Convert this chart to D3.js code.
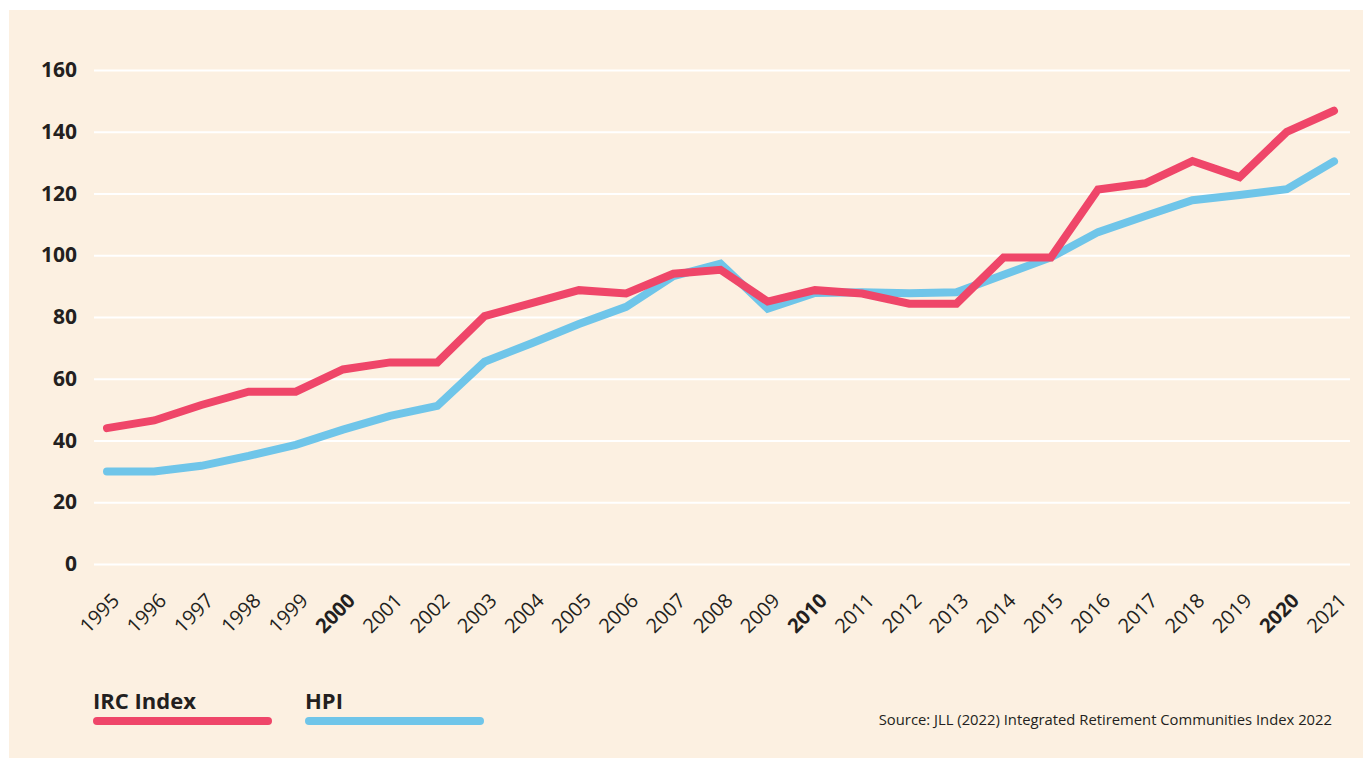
<!DOCTYPE html>
<html>
<head>
<meta charset="utf-8">
<script src="https://cdn.jsdelivr.net/npm/d3@7"></script>
<style>
  html, body { margin: 0; padding: 0; background: #ffffff; }
  svg { display: block; }
</style>
</head>
<body>
<div class="visualization"></div>
<script>
const years = [1995, 1996, 1997, 1998, 1999, 2000, 2001, 2002, 2003, 2004, 2005, 2006, 2007,
  2008, 2009, 2010, 2011, 2012, 2013, 2014, 2015, 2016, 2017, 2018, 2019, 2020, 2021]
const ircIndex = [44, 46.5, 51.5, 55.8, 55.8, 63, 65.3, 65.3, 80.3, 84.5, 88.7, 87.6, 94,
  95.3, 85, 88.7, 87.6, 84.3, 84.3, 99.3, 99.3, 121.3, 123.3, 130.5, 125.3, 140, 146.8]
const hpi = [30, 30, 31.8, 35, 38.6, 43.5, 48, 51.2, 65.5, 71.5, 77.7, 83.3, 93.2,
  97.3, 82.7, 87.8, 88, 87.7, 88, 93.7, 99.3, 107.5, 112.7, 117.8, 119.5, 121.4, 130.4]
const yTicks = [0, 20, 40, 60, 80, 100, 120, 140, 160]
const boldYears = [2000, 2010, 2020]
const seriesNames = ['IRC Index', 'HPI']
const sourceText = 'Source: JLL (2022) Integrated Retirement Communities Index 2022'

const WIDTH = 1363
const HEIGHT = 758
const RED = '#ef4669'
const BLUE = '#6fc5e9'
const INK = '#231f20'
const FONT = '"Open Sans", "Noto Sans", sans-serif'

const svg = d3.select('.visualization')
  .append('svg')
  .attr('width', WIDTH)
  .attr('height', HEIGHT)

// panel
svg.append('rect')
  .attr('x', 9)
  .attr('y', 10)
  .attr('width', WIDTH - 9)
  .attr('height', HEIGHT - 10)
  .attr('fill', '#fcf0e1')

// set the ranges
const x = d3.scalePoint().domain(years).range([107, 1334])
const y = d3.scaleLinear().domain([0, 160]).range([564, 70])

// horizontal gridlines + y labels
svg.append('g')
  .attr('class', 'grid y-grid')
  .attr('transform', 'translate(94,0)')
  .call(d3.axisLeft(y)
    .tickValues(yTicks)
    .tickSize(-1256)
    .tickPadding(17)
  )
  .call(g => g.select('.domain').remove())
  .call(g => g.selectAll('.tick line').attr('stroke', '#ffffff').attr('stroke-width', 2))
  .call(g => g.selectAll('.tick text')
    .attr('fill', INK)
    .style('font-family', FONT)
    .style('font-size', '21px')
    .style('font-weight', 700))

// x labels, rotated
svg.append('g')
  .attr('class', 'labels')
  .attr('transform', 'translate(0,564)')
  .call(d3.axisBottom(x).tickSize(0).tickFormat(d => d))
  .call(g => g.select('.domain').remove())
  .call(g => g.selectAll('.tick text')
    .attr('fill', INK)
    .attr('text-anchor', 'end')
    .attr('x', 0)
    .attr('y', 0)
    .attr('dy', 0)
    .attr('transform', 'translate(13,38) rotate(-45)')
    .style('font-family', FONT)
    .style('font-size', '20px')
    .style('font-weight', d => boldYears.includes(d) ? 700 : 400))

// define the line
const line = d3.line()
  .x((d, i) => x(years[i]))
  .y(d => y(d))

svg.append('path')
  .datum(hpi)
  .attr('d', line)
  .attr('fill', 'none')
  .attr('stroke', BLUE)
  .attr('stroke-width', 8)
  .attr('stroke-linecap', 'round')
  .attr('stroke-linejoin', 'miter')

svg.append('path')
  .datum(ircIndex)
  .attr('d', line)
  .attr('fill', 'none')
  .attr('stroke', RED)
  .attr('stroke-width', 8)
  .attr('stroke-linecap', 'round')
  .attr('stroke-linejoin', 'miter')

// legend
const legend = svg.append('g').attr('class', 'legend')
const legendItems = [
  { name: seriesNames[0], color: RED, x: 93 },
  { name: seriesNames[1], color: BLUE, x: 305 }
]
legendItems.forEach(item => {
  legend.append('text')
    .attr('x', item.x)
    .attr('y', 709)
    .attr('fill', INK)
    .style('font-family', FONT)
    .style('font-size', '22px')
    .style('font-weight', 700)
    .text(item.name)
  legend.append('line')
    .attr('x1', item.x + 4)
    .attr('x2', item.x + 175)
    .attr('y1', 721)
    .attr('y2', 721)
    .attr('stroke', item.color)
    .attr('stroke-width', 8)
    .attr('stroke-linecap', 'round')
})

svg.append('text')
  .attr('x', 1332)
  .attr('y', 725)
  .attr('text-anchor', 'end')
  .attr('fill', INK)
  .style('font-family', FONT)
  .style('font-size', '14.8px')
  .text(sourceText)
</script>
</body>
</html>
